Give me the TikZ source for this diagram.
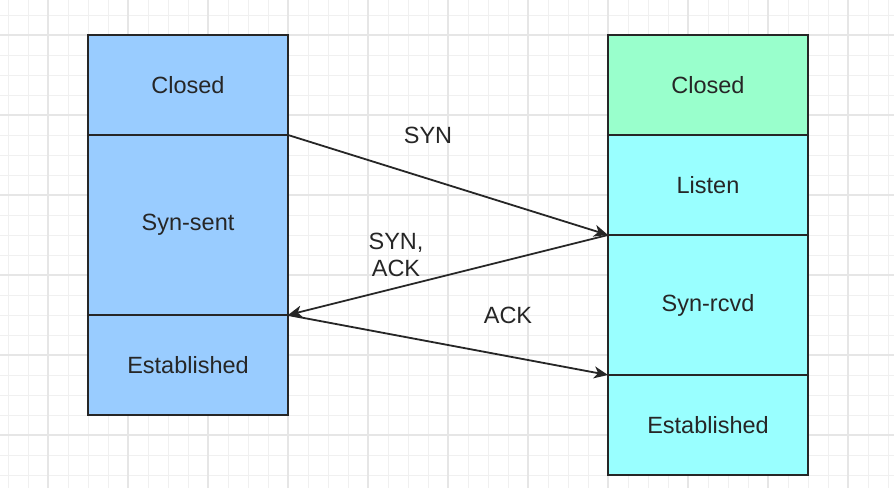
\documentclass[tikz,border=0pt]{standalone}
\usepackage{fontspec}
\setmainfont{Liberation Sans}
\usetikzlibrary{positioning,arrows.meta}
\definecolor{cliblue}{HTML}{99CCFF}
\definecolor{srvgreen}{HTML}{99FFCC}
\definecolor{srvcyan}{HTML}{99FFFF}
\definecolor{gridminor}{HTML}{F0F0F0}
\definecolor{gridmajor}{HTML}{E6E6E6}
\definecolor{inkgray}{HTML}{262626}
\tikzset{
  stbox/.style={draw=inkgray, line width=1.6pt, minimum width=200pt, outer sep=0pt, inner sep=0pt, font=\fontsize{23.5}{27.5}\selectfont, text=inkgray},
  msg/.style={-{Stealth[length=14pt,width=12pt,inset=4pt]}, line width=1.8pt, draw=inkgray},
  lbl/.style={font=\fontsize{23.5}{27.5}\selectfont, align=center, text=inkgray}
}
\begin{document}
\begin{tikzpicture}[x=1pt,y=-1pt]
\useasboundingbox[fill=white] (0,0) rectangle (894,488);
% grid
\foreach \x in {8,28,...,888} {\draw[gridminor, line width=1pt] (\x,0) -- (\x,488);}
\foreach \y in {15,35,...,475} {\draw[gridminor, line width=1pt] (0,\y) -- (894,\y);}
\foreach \x in {48,128,...,848} {\draw[gridmajor, line width=1.2pt] (\x,0) -- (\x,488);}
\foreach \y in {35,115,...,435} {\draw[gridmajor, line width=1.2pt] (0,\y) -- (894,\y);}
% client
\node[stbox, fill=cliblue, minimum height=100pt, anchor=north west] (cclosed) at (88,35) {Closed};
\node[stbox, fill=cliblue, minimum height=180pt, below=0pt of cclosed] (csent) {Syn-sent};
\node[stbox, fill=cliblue, minimum height=100pt, below=0pt of csent] (cest) {Established};
% server
\node[stbox, fill=srvgreen, minimum height=100pt, anchor=north west] (sclosed) at (608,35) {Closed};
\node[stbox, fill=srvcyan, minimum height=100pt, below=0pt of sclosed] (slisten) {Listen};
\node[stbox, fill=srvcyan, minimum height=140pt, below=0pt of slisten] (srcvd) {Syn-rcvd};
\node[stbox, fill=srvcyan, minimum height=100pt, below=0pt of srcvd] (sest) {Established};
% messages
\draw[msg] (cclosed.south east) -- (slisten.south west);
\draw[msg] (slisten.south west) -- (csent.south east);
\draw[msg] (csent.south east) -- (srcvd.south west);
\node[lbl] (lsyn) at (428,135) {SYN};
\node[lbl] (lsynack) at (396,255) {SYN,\\ACK};
\node[lbl] (lack) at (508,315) {ACK};
\end{tikzpicture}
\end{document}
